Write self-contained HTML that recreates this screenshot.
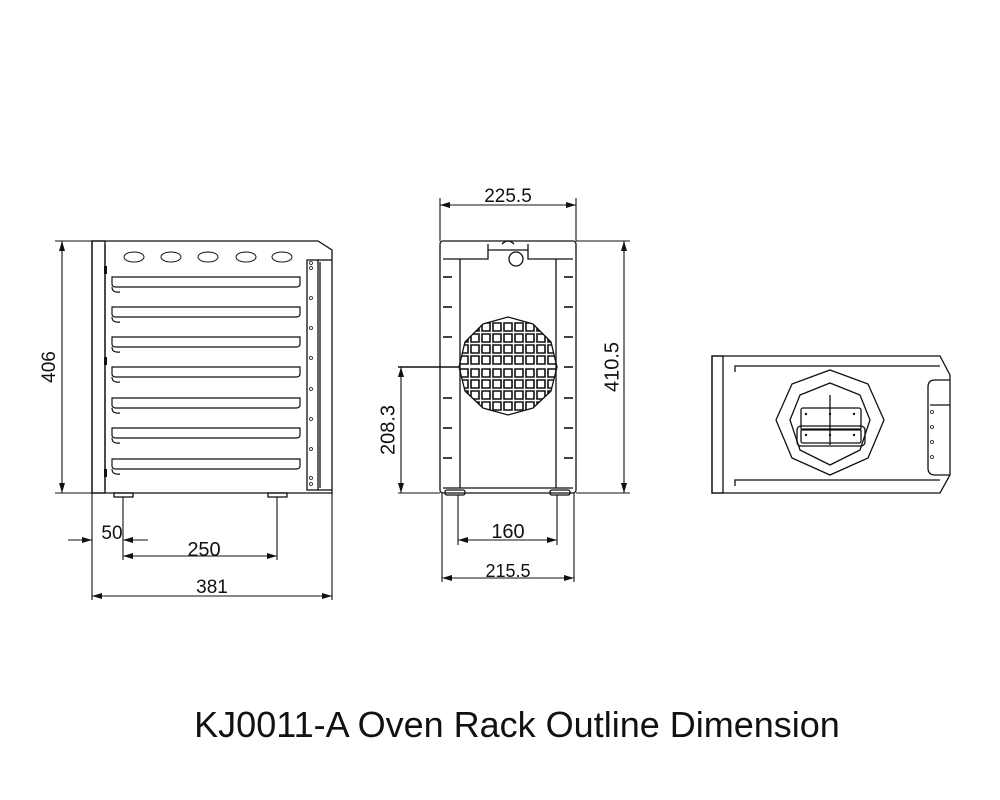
<!DOCTYPE html>
<html><head><meta charset="utf-8"><style>
html,body{margin:0;padding:0;background:#fff;}
svg{display:block;}
text{font-family:"Liberation Sans",Arial,sans-serif;fill:#111;}
</style></head><body>
<svg width="1000" height="800" viewBox="0 0 1000 800" xmlns="http://www.w3.org/2000/svg">
<defs>
<marker id="a" viewBox="0 0 10 6" refX="10" refY="3" markerWidth="10" markerHeight="6" orient="auto-start-reverse" markerUnits="userSpaceOnUse"><path d="M0,0 L10,3 L0,6 z" fill="#111"/></marker>
<clipPath id="oc"><polygon points="508,317 533,324 551,342 557,367 551,391 533,408 508,415 483,408 465,391 459,367 465,342 483,324"/></clipPath>
</defs>
<g stroke="#111" fill="none" stroke-width="1.3">
<path d="M92,241 H318 L332,250 V493 H92 Z"/>
<rect x="92" y="241" width="13" height="252"/>
<line x1="105" y1="244" x2="105" y2="490"/>
<rect x="307" y="260" width="11" height="230"/>
<line x1="318" y1="260" x2="332" y2="260"/>
<line x1="318" y1="490" x2="332" y2="490"/>
<line x1="320" y1="262" x2="320" y2="488"/>
<g stroke-width="1">
<ellipse cx="134" cy="257" rx="10" ry="5"/><ellipse cx="171" cy="257" rx="10" ry="5"/><ellipse cx="208" cy="257" rx="10" ry="5"/><ellipse cx="246" cy="257" rx="10" ry="5"/><ellipse cx="282" cy="257" rx="10" ry="5"/>
</g>
<g stroke-width="1.2">
<path d="M112,277 H300 V284 Q300,287 296,287 H116 Q112,287 112,284 Z M112,287 Q112,293 120,292"/>
<path d="M112,307 H300 V314 Q300,317 296,317 H116 Q112,317 112,314 Z M112,317 Q112,323 120,322"/>
<path d="M112,337 H300 V344 Q300,347 296,347 H116 Q112,347 112,344 Z M112,347 Q112,353 120,352"/>
<path d="M112,367 H300 V374 Q300,377 296,377 H116 Q112,377 112,374 Z M112,377 Q112,383 120,382"/>
<path d="M112,398 H300 V405 Q300,408 296,408 H116 Q112,408 112,405 Z M112,408 Q112,414 120,413"/>
<path d="M112,428 H300 V435 Q300,438 296,438 H116 Q112,438 112,435 Z M112,438 Q112,444 120,443"/>
<path d="M112,459 H300 V466 Q300,469 296,469 H116 Q112,469 112,466 Z M112,469 Q112,475 120,474"/>
</g>
<g fill="#111" stroke="none">
<rect x="104" y="266" width="3" height="8"/><rect x="104" y="357" width="3" height="8"/><rect x="104" y="469" width="3" height="8"/>
</g>
<g stroke-width="0.8">
<circle cx="311" cy="263" r="1.5"/><circle cx="311" cy="268" r="1.5"/><circle cx="311" cy="298" r="1.5"/><circle cx="311" cy="328" r="1.5"/><circle cx="311" cy="358" r="1.5"/><circle cx="311" cy="389" r="1.5"/><circle cx="311" cy="419" r="1.5"/><circle cx="311" cy="449" r="1.5"/><circle cx="311" cy="478" r="1.5"/><circle cx="311" cy="484" r="1.5"/>
</g>
<rect x="114" y="493" width="19" height="4"/><rect x="268" y="493" width="19" height="4"/>
<g stroke-width="1.1">
<line x1="55" y1="241" x2="92" y2="241"/><line x1="55" y1="493" x2="92" y2="493"/>
<line x1="62" y1="241" x2="62" y2="493" marker-start="url(#a)" marker-end="url(#a)"/>
<line x1="92" y1="493" x2="92" y2="600"/><line x1="332" y1="493" x2="332" y2="600"/>
<line x1="123" y1="497" x2="123" y2="560"/><line x1="277" y1="497" x2="277" y2="560"/>
<line x1="68" y1="540" x2="92" y2="540" marker-end="url(#a)"/>
<line x1="148" y1="540" x2="123" y2="540" marker-end="url(#a)"/>
<line x1="123" y1="556" x2="277" y2="556" marker-start="url(#a)" marker-end="url(#a)"/>
<line x1="92" y1="596" x2="332" y2="596" marker-start="url(#a)" marker-end="url(#a)"/>
</g>
<rect x="440" y="241" width="136" height="252" rx="3"/>
<path d="M443,259 H488 V244 M528,244 V259 H573"/>
<line x1="488" y1="250" x2="528" y2="250"/>
<path d="M502,244 Q508,238 514,244"/>
<circle cx="516" cy="259" r="7"/>
<line x1="460" y1="259" x2="460" y2="488"/><line x1="556" y1="259" x2="556" y2="488"/>
<line x1="443" y1="488" x2="573" y2="488"/>
<g stroke-width="1.6">
<line x1="443" y1="277" x2="452" y2="277"/><line x1="443" y1="307" x2="452" y2="307"/><line x1="443" y1="337" x2="452" y2="337"/><line x1="443" y1="398" x2="452" y2="398"/><line x1="443" y1="428" x2="452" y2="428"/><line x1="443" y1="458" x2="452" y2="458"/>
<line x1="564" y1="277" x2="573" y2="277"/><line x1="564" y1="307" x2="573" y2="307"/><line x1="564" y1="337" x2="573" y2="337"/><line x1="564" y1="367" x2="573" y2="367"/><line x1="564" y1="398" x2="573" y2="398"/><line x1="564" y1="428" x2="573" y2="428"/><line x1="564" y1="458" x2="573" y2="458"/>
</g>
<rect x="445" y="490" width="20" height="5" rx="2"/><rect x="550" y="490" width="20" height="5" rx="2"/>
<polygon points="508,317 533,324 551,342 557,367 551,391 533,408 508,415 483,408 465,391 459,367 465,342 483,324"/>
<g clip-path="url(#oc)" stroke-width="1.6">
<path d="M460,323h8v8h-8zM471,323h8v8h-8zM482,323h8v8h-8zM493,323h8v8h-8zM504,323h8v8h-8zM515,323h8v8h-8zM526,323h8v8h-8zM537,323h8v8h-8zM548,323h8v8h-8z
M460,334h8v8h-8zM471,334h8v8h-8zM482,334h8v8h-8zM493,334h8v8h-8zM504,334h8v8h-8zM515,334h8v8h-8zM526,334h8v8h-8zM537,334h8v8h-8zM548,334h8v8h-8z
M460,345h8v8h-8zM471,345h8v8h-8zM482,345h8v8h-8zM493,345h8v8h-8zM504,345h8v8h-8zM515,345h8v8h-8zM526,345h8v8h-8zM537,345h8v8h-8zM548,345h8v8h-8z
M460,356h8v8h-8zM471,356h8v8h-8zM482,356h8v8h-8zM493,356h8v8h-8zM504,356h8v8h-8zM515,356h8v8h-8zM526,356h8v8h-8zM537,356h8v8h-8zM548,356h8v8h-8z
M460,369h8v8h-8zM471,369h8v8h-8zM482,369h8v8h-8zM493,369h8v8h-8zM504,369h8v8h-8zM515,369h8v8h-8zM526,369h8v8h-8zM537,369h8v8h-8zM548,369h8v8h-8z
M460,380h8v8h-8zM471,380h8v8h-8zM482,380h8v8h-8zM493,380h8v8h-8zM504,380h8v8h-8zM515,380h8v8h-8zM526,380h8v8h-8zM537,380h8v8h-8zM548,380h8v8h-8z
M460,391h8v8h-8zM471,391h8v8h-8zM482,391h8v8h-8zM493,391h8v8h-8zM504,391h8v8h-8zM515,391h8v8h-8zM526,391h8v8h-8zM537,391h8v8h-8zM548,391h8v8h-8z
M460,402h8v8h-8zM471,402h8v8h-8zM482,402h8v8h-8zM493,402h8v8h-8zM504,402h8v8h-8zM515,402h8v8h-8zM526,402h8v8h-8zM537,402h8v8h-8zM548,402h8v8h-8z"/>
</g>
<g stroke-width="1.1">
<line x1="440" y1="198" x2="440" y2="241"/><line x1="576" y1="198" x2="576" y2="241"/>
<line x1="440" y1="205" x2="576" y2="205" marker-start="url(#a)" marker-end="url(#a)"/>
<line x1="576" y1="241" x2="630" y2="241"/><line x1="576" y1="493" x2="630" y2="493"/>
<line x1="624" y1="241" x2="624" y2="493" marker-start="url(#a)" marker-end="url(#a)"/>
<line x1="398" y1="367" x2="460" y2="367" stroke-width="1.4"/><line x1="398" y1="493" x2="440" y2="493"/>
<line x1="401" y1="367" x2="401" y2="493" marker-start="url(#a)" marker-end="url(#a)"/>
<line x1="458" y1="495" x2="458" y2="545"/><line x1="557" y1="495" x2="557" y2="545"/>
<line x1="458" y1="540" x2="557" y2="540" marker-start="url(#a)" marker-end="url(#a)"/>
<line x1="442" y1="493" x2="442" y2="582"/><line x1="574" y1="493" x2="574" y2="582"/>
<line x1="442" y1="578" x2="574" y2="578" marker-start="url(#a)" marker-end="url(#a)"/>
</g>
<path d="M712,356 H940 L950,375 V475 L940,493 H712 Z"/>
<rect x="712" y="356" width="11" height="137"/>
<path d="M735,372 V366 H940"/><path d="M735,486 V480 H940"/>
<path d="M950,380 H935 Q928,380 928,387 V468 Q928,475 935,475 H950"/>
<line x1="930" y1="405" x2="950" y2="405"/>
<g stroke-width="0.8"><circle cx="932" cy="412" r="1.5"/><circle cx="932" cy="427" r="1.5"/><circle cx="932" cy="442" r="1.5"/><circle cx="932" cy="457" r="1.5"/></g>
<polygon points="830,370 868,384 884,420 868,458 830,475 792,458 776,420 792,384"/>
<polygon points="830,383 860,395 870,420 860,450 830,465 800,450 790,420 800,395"/>
<rect x="801" y="408" width="60" height="22" rx="2"/>
<rect x="797" y="426" width="68" height="20" rx="4"/>
<rect x="801" y="429" width="60" height="14" rx="2"/>
<line x1="830" y1="395" x2="830" y2="445"/>
<g fill="#111" stroke="none"><circle cx="806" cy="414" r="1.2"/><circle cx="830" cy="414" r="1.2"/><circle cx="854" cy="414" r="1.2"/><circle cx="806" cy="435" r="1.2"/><circle cx="830" cy="435" r="1.2"/><circle cx="854" cy="435" r="1.2"/></g>
</g>
<text x="50" y="367" font-size="19" text-anchor="middle" transform="rotate(-90 50 367)" dominant-baseline="middle">406</text>
<text x="112" y="539" font-size="19" text-anchor="middle">50</text>
<text x="204" y="556" font-size="20" text-anchor="middle">250</text>
<text x="212" y="593" font-size="19" text-anchor="middle">381</text>
<text x="508" y="202" font-size="19" text-anchor="middle">225.5</text>
<text x="613" y="367" font-size="20" text-anchor="middle" transform="rotate(-90 613 367)" dominant-baseline="middle">410.5</text>
<text x="389" y="430" font-size="20" text-anchor="middle" transform="rotate(-90 389 430)" dominant-baseline="middle">208.3</text>
<text x="508" y="538" font-size="20" text-anchor="middle">160</text>
<text x="508" y="577" font-size="18" text-anchor="middle">215.5</text>
<text x="517" y="737" font-size="36" text-anchor="middle">KJ0011-A Oven Rack Outline Dimension</text>
</svg>
</body></html>
